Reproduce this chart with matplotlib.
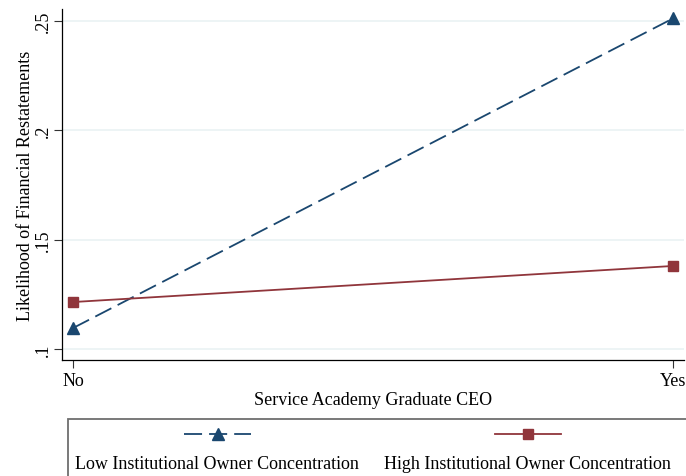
import matplotlib.pyplot as plt
from matplotlib.lines import Line2D
from matplotlib.patches import Rectangle

plt.rcParams['font.family'] = ['Liberation Serif', 'DejaVu Serif']

# predicted likelihood by CEO background
categories = ['No', 'Yes']
low_conc = [0.1096, 0.2512]
high_conc = [0.1215, 0.1380]
yticks = [0.10, 0.15, 0.20, 0.25]
ytick_labels = ['.1', '.15', '.2', '.25']

navy = '#1a476f'
maroon = '#90353b'
fs = 13
lw = 1.3
dash = (10, 3.9)

fig = plt.figure(figsize=(6.86, 4.77), dpi=100)
ax = fig.add_axes([0.0904, 0.2432, 0.9067, 0.7358])

x = list(range(len(categories)))
ax.plot(x, low_conc, color=navy, lw=lw, dashes=dash, marker='^',
        markersize=9, markerfacecolor=navy, markeredgecolor=navy, zorder=3)
ax.plot(x, high_conc, color=maroon, lw=lw, marker='s',
        markersize=7.5, markerfacecolor=maroon, markeredgecolor=maroon, zorder=3)

ax.set_xlim(-0.0183, 1.0183)
ax.set_ylim(0.095, 0.2555)
ax.set_xticks(x)
ax.set_xticklabels(categories, fontsize=fs)
ax.set_yticks(yticks)
ax.set_yticklabels(ytick_labels, fontsize=fs, rotation=90, va='center')
ax.tick_params(direction='out', length=6, width=0.8, color='#333333')
ax.tick_params(axis='y', pad=1)
ax.tick_params(axis='x', pad=3)

for y in yticks:
    ax.axhline(y, color='#eaf2f3', lw=1.2, zorder=0)

for s in ['top', 'right']:
    ax.spines[s].set_visible(False)
for s in ['left', 'bottom']:
    ax.spines[s].set_color('black')
    ax.spines[s].set_linewidth(0.9)

ax.set_xlabel('Service Academy Graduate CEO', fontsize=fs, labelpad=1)
ax.set_ylabel('Likelihood of Financial Restatements', fontsize=fs, labelpad=1)

# legend drawn in figure space: key above each label
W, H = 686.0, 477.0
fig.patches.append(Rectangle((68 / W, -0.1), 1.0, 0.1 + (1 - 420 / H),
                             transform=fig.transFigure, fill=False,
                             edgecolor='#6e6e6e', lw=1.3))
key_y = 1 - 435 / H
fig.add_artist(Line2D([184 / W, 251 / W], [key_y, key_y], transform=fig.transFigure,
                      color=navy, lw=lw, dashes=dash))
fig.add_artist(Line2D([218 / W], [key_y], transform=fig.transFigure, color=navy,
                      marker='^', markersize=9, linestyle='none'))
fig.add_artist(Line2D([495 / W, 561 / W], [key_y, key_y], transform=fig.transFigure,
                      color=maroon, lw=lw))
fig.add_artist(Line2D([528 / W], [key_y], transform=fig.transFigure, color=maroon,
                      marker='s', markersize=7.5, linestyle='none'))
text_y = 1 - 465 / H
fig.text(217 / W, text_y, 'Low Institutional Owner Concentration', fontsize=fs,
         ha='center', va='center')
fig.text(527 / W, text_y, 'High Institutional Owner Concentration', fontsize=fs,
         ha='center', va='center')

fig.savefig('out.png', dpi=100)
